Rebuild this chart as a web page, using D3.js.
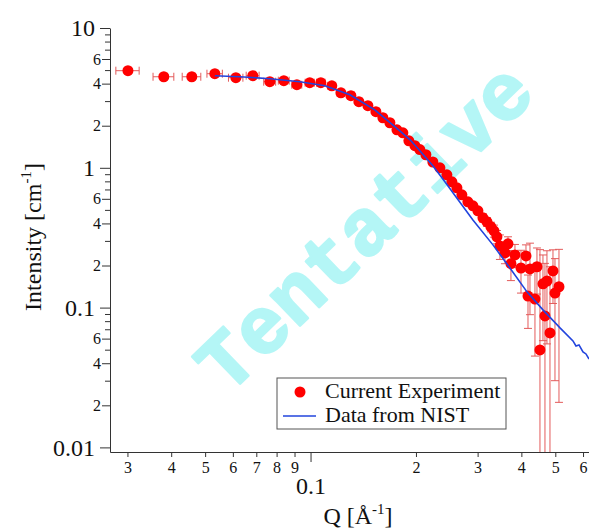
<!DOCTYPE html>
<html>
<head>
<meta charset="utf-8">
<script src="https://cdn.jsdelivr.net/npm/d3@7"></script>
<style>
body { margin: 0; background: #fff; }
</style>
</head>
<body>
<script>
var width = 589;
var height = 529;

// measured SANS curve: Q [1/A], I [1/cm] and their errors
var qExp = [0.0301, 0.0381, 0.0458, 0.0533, 0.0612, 0.0684, 0.0765, 0.0839, 0.0914, 0.0995,
  0.1070, 0.1150, 0.1221, 0.1304, 0.1374, 0.1458, 0.1537, 0.1609, 0.1685, 0.1765,
  0.1835, 0.1909, 0.1986, 0.2052, 0.2135, 0.2235, 0.2341, 0.2451, 0.2533, 0.2618,
  0.2705, 0.2814, 0.2909, 0.3006, 0.3107, 0.3190, 0.3274, 0.3340, 0.3406, 0.3474,
  0.3591, 0.3663, 0.3735, 0.3835, 0.3990, 0.4123, 0.4178, 0.4233, 0.4374, 0.4432,
  0.4520, 0.4610, 0.4671, 0.4733, 0.4828, 0.4924, 0.4989, 0.5122];
var iExp = [4.95, 4.48, 4.48, 4.71, 4.41, 4.56, 4.13, 4.20, 3.93, 4.06,
  4.06, 3.86, 3.44, 3.28, 2.97, 2.78, 2.52, 2.28, 2.10, 1.87,
  1.78, 1.56, 1.44, 1.35, 1.24, 1.10, 1.00, 0.891, 0.794, 0.719,
  0.641, 0.571, 0.535, 0.492, 0.439, 0.411, 0.378, 0.354, 0.321, 0.276,
  0.246, 0.286, 0.206, 0.238, 0.192, 0.234, 0.121, 0.189, 0.115, 0.196,
  0.0498, 0.148, 0.0872, 0.155, 0.0659, 0.183, 0.127, 0.141];
var dqExp = [0.0023, 0.0026, 0.0028, 0.0027, 0.0029, 0.0029, 0.003, 0.003, 0.003, 0.003,
  0.003, 0.003, 0.003, 0.003, 0.003, 0.003, 0.003, 0.003, 0.003, 0.003,
  0.003, 0.003, 0.003, 0.003, 0.003, 0.003, 0.003, 0.003, 0.003, 0.003,
  0.003, 0.003, 0.003, 0.003, 0.003, 0.003, 0.003, 0.003, 0.003, 0.003,
  0.003, 0.003, 0.003, 0.003, 0.003, 0.003, 0.003, 0.003, 0.003, 0.003,
  0.003, 0.003, 0.003, 0.003, 0.003, 0.003, 0.003, 0.003];
var diExp = [0.08, 0.07, 0.07, 0.07, 0.06, 0.06, 0.05, 0.05, 0.05, 0.05,
  0.05, 0.04, 0.04, 0.04, 0.04, 0.03, 0.03, 0.03, 0.03, 0.03,
  0.03, 0.02, 0.02, 0.02, 0.02, 0.02, 0.02, 0.02, 0.02, 0.02,
  0.02, 0.02, 0.025, 0.025, 0.03, 0.03, 0.03, 0.035, 0.035, 0.055,
  0.04, 0.035, 0.05, 0.045, 0.065, 0.047, 0.05, 0.1, 0.07, 0.071,
  0.21, 0.09, 0.12, 0.1, 0.13, 0.076, 0.097, 0.12];

// reference curve from NIST
var qNist = [0.0533, 0.0628, 0.0765, 0.0932, 0.1099, 0.1295, 0.1526, 0.1799, 0.1924, 0.2052,
  0.2235, 0.2419, 0.2909, 0.3318, 0.3710, 0.4150, 0.4610, 0.5157, 0.5616, 0.5728,
  0.5843, 0.5998, 0.6118, 0.6240];
var iNist = [4.56, 4.48, 4.34, 4.13, 3.86, 3.33, 2.60, 1.84, 1.586, 1.323,
  1.033, 0.794, 0.424, 0.281, 0.192, 0.1296, 0.0963, 0.0716, 0.0578, 0.0532,
  0.0541, 0.0482, 0.0466, 0.0429];

// ticks
var yMajor = [0.01, 0.1, 1, 10];
var yMajorLabels = ['0.01', '0.1', '1', '10'];
var yLabelDigits = [2, 4, 6];
var xMajor = [0.1];
var xMajorLabels = ['0.1'];
var xLabelDigits = [2, 3, 4, 5, 6, 7, 8, 9];

var legendNames = ['Current Experiment', 'Data from NIST'];

var serif = 'Liberation Serif, Times New Roman, serif';
var axisColor = '#333';
var red = '#f00';
var barRed = '#e35b5b';
var blue = '#2244dd';

var svg = d3.select('body').append('svg')
  .attr('width', width)
  .attr('height', height);

var x = d3.scaleLog().domain([0.02675, 0.624]).range([110, 589]);
var y = d3.scaleLog().domain([0.00927, 10]).range([452, 28]);

var digit = function(v) {
  return Math.round(v / Math.pow(10, Math.floor(Math.log10(v) + 1e-9)));
};
var isMajor = function(v) { return Math.abs(Math.log10(v) - Math.round(Math.log10(v))) < 1e-6; };

//watermark
svg.append('text')
  .attr('transform', 'translate(363,226) rotate(-44)')
  .attr('text-anchor', 'middle')
  .attr('dy', '0.35em')
  .attr('font-family', 'Liberation Mono, Courier New, monospace')
  .attr('font-weight', 'bold')
  .attr('font-size', 80)
  .attr('fill', '#b4f6f6')
  .attr('stroke', '#b4f6f6')
  .attr('stroke-width', 2.5)
  .attr('stroke-linejoin', 'round')
  .text('Tentative');

svg.append('clipPath').attr('id', 'plot')
  .append('rect').attr('x', 110).attr('y', 20).attr('width', 480).attr('height', 432);

var plot = svg.append('g').attr('clip-path', 'url(#plot)');

var pts = qExp.map(function(q, i) {
  return {q: q, i: iExp[i], dq: dqExp[i], di: diExp[i]};
});

//error bars
var bars = plot.append('g').attr('stroke', barRed).attr('stroke-width', 1).attr('fill', 'none');
pts.forEach(function(d) {
  var cx = x(d.q), cy = y(d.i);
  var lo = d.i - d.di;
  var yTop = y(d.i + d.di);
  var yBot = lo > y.domain()[0] ? y(lo) : 460;
  bars.append('line').attr('x1', cx).attr('x2', cx).attr('y1', yTop).attr('y2', yBot);
  bars.append('line').attr('x1', cx - 4).attr('x2', cx + 4).attr('y1', yTop).attr('y2', yTop);
  if (lo > y.domain()[0]) {
    bars.append('line').attr('x1', cx - 4).attr('x2', cx + 4).attr('y1', yBot).attr('y2', yBot);
  }
  var xl = x(d.q - d.dq), xr = x(d.q + d.dq);
  bars.append('line').attr('x1', xl).attr('x2', xr).attr('y1', cy).attr('y2', cy);
  bars.append('line').attr('x1', xl).attr('x2', xl).attr('y1', cy - 4).attr('y2', cy + 4);
  bars.append('line').attr('x1', xr).attr('x2', xr).attr('y1', cy - 4).attr('y2', cy + 4);
});

//markers
plot.selectAll('circle.exp').data(pts).enter().append('circle')
  .attr('class', 'exp')
  .attr('cx', function(d) { return x(d.q); })
  .attr('cy', function(d) { return y(d.i); })
  .attr('r', 5.5)
  .attr('fill', red);

//NIST line
var line = d3.line()
  .x(function(d) { return x(d[0]); })
  .y(function(d) { return y(d[1]); });
plot.append('path')
  .datum(qNist.map(function(q, i) { return [q, iNist[i]]; }))
  .attr('d', line)
  .attr('fill', 'none')
  .attr('stroke', blue)
  .attr('stroke-width', 1.6);

//axes
var styleAxis = function(g, size) {
  g.attr('font-family', serif).attr('font-size', size);
  g.selectAll('line').attr('stroke', axisColor);
  g.selectAll('path').attr('stroke', axisColor);
  g.selectAll('text').attr('fill', '#111');
};

var yMinor = y.ticks().filter(function(v) { return !isMajor(v); });
var yLab = yMinor.filter(function(v) { return yLabelDigits.indexOf(digit(v)) >= 0; });
var yUnlab = yMinor.filter(function(v) { return yLabelDigits.indexOf(digit(v)) < 0; });

var yg1 = svg.append('g').attr('transform', 'translate(110,0)')
  .call(d3.axisLeft(y).tickValues(yMajor).tickSize(10).tickSizeOuter(0).tickPadding(5)
    .tickFormat(function(d, i) { return yMajorLabels[i]; }));
styleAxis(yg1, 24);
var yg2 = svg.append('g').attr('transform', 'translate(110,0)')
  .call(d3.axisLeft(y).tickValues(yLab).tickSize(8).tickPadding(1).tickFormat(digit));
yg2.select('.domain').remove();
styleAxis(yg2, 16);
var yg3 = svg.append('g').attr('transform', 'translate(110,0)')
  .call(d3.axisLeft(y).tickValues(yUnlab).tickSize(5).tickFormat(''));
yg3.select('.domain').remove();
styleAxis(yg3, 16);

var xMinor = x.ticks().filter(function(v) { return !isMajor(v) && xLabelDigits.indexOf(digit(v)) >= 0; });

var xg1 = svg.append('g').attr('transform', 'translate(0,452)')
  .call(d3.axisBottom(x).tickValues(xMajor).tickSize(10).tickSizeOuter(0).tickPadding(15)
    .tickFormat(function(d, i) { return xMajorLabels[i]; }));
styleAxis(xg1, 24);
var xg2 = svg.append('g').attr('transform', 'translate(0,452)')
  .call(d3.axisBottom(x).tickValues(xMinor).tickSize(5).tickPadding(5).tickFormat(digit));
xg2.select('.domain').remove();
styleAxis(xg2, 16);

//axis titles
var yt = svg.append('text')
  .attr('transform', 'translate(41,237) rotate(-90)')
  .attr('text-anchor', 'middle')
  .attr('font-family', serif)
  .attr('font-size', 24)
  .attr('fill', '#111');
yt.append('tspan').text('Intensity [cm');
yt.append('tspan').attr('font-size', 15).attr('dy', -10).text('-1');
yt.append('tspan').attr('dy', 10).text(']');

var xt = svg.append('text')
  .attr('x', 358).attr('y', 524)
  .attr('text-anchor', 'middle')
  .attr('font-family', serif)
  .attr('font-size', 24)
  .attr('fill', '#111');
xt.append('tspan').text('Q [Å');
xt.append('tspan').attr('font-size', 15).attr('dy', -10).text('-1');
xt.append('tspan').attr('dy', 10).text(']');

//legend
var lg = svg.append('g');
lg.append('rect')
  .attr('x', 277).attr('y', 378).attr('width', 229).attr('height', 51)
  .attr('fill', '#fff').attr('stroke', '#555').attr('stroke-width', 1);
lg.append('circle').attr('cx', 300).attr('cy', 392).attr('r', 5.5).attr('fill', red);
lg.append('line').attr('x1', 283).attr('x2', 316).attr('y1', 416).attr('y2', 416)
  .attr('stroke', blue).attr('stroke-width', 1.6);
lg.selectAll('text.leg').data(legendNames).enter().append('text')
  .attr('class', 'leg')
  .attr('x', 325)
  .attr('y', function(d, i) { return 398 + i * 24; })
  .attr('font-family', serif)
  .attr('font-size', 22)
  .attr('fill', '#111')
  .text(function(d) { return d; });
</script>
</body>
</html>
